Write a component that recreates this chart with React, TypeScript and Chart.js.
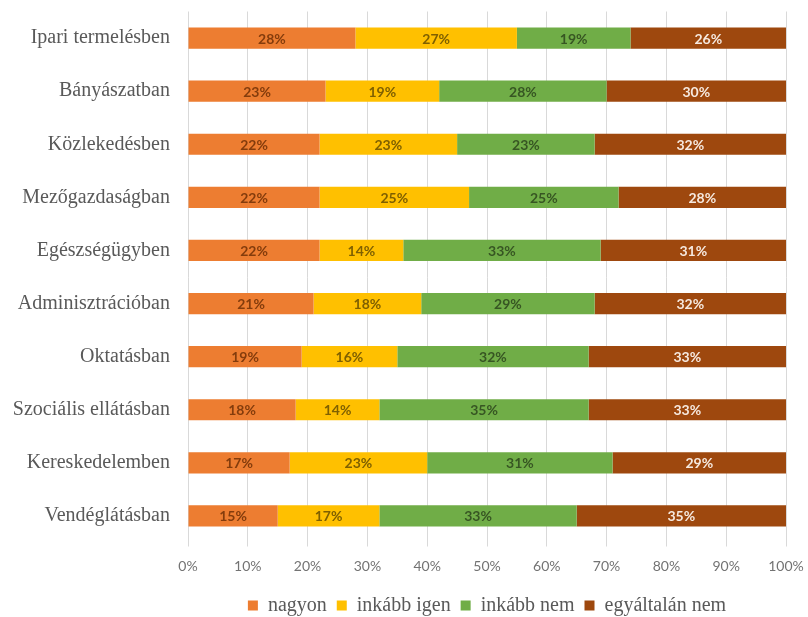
import React, { useEffect, useRef } from "react";
import { Chart, registerables } from "chart.js";

Chart.register(...registerables);

const categories = [
  "Ipari termelésben",
  "Bányászatban",
  "Közlekedésben",
  "Mezőgazdaságban",
  "Egészségügyben",
  "Adminisztrációban",
  "Oktatásban",
  "Szociális ellátásban",
  "Kereskedelemben",
  "Vendéglátásban",
];

const nagyon = [28, 23, 22, 22, 22, 21, 19, 18, 17, 15];
const inkabbIgen = [27, 19, 23, 25, 14, 18, 16, 14, 23, 17];
const inkabbNem = [19, 28, 23, 25, 33, 29, 32, 35, 31, 33];
const egyaltalanNem = [26, 30, 32, 28, 31, 32, 33, 33, 29, 35];

const seriesNames = ["nagyon", "inkább igen", "inkább nem", "egyáltalán nem"];
const seriesColors = ["#ED7D31", "#FFC000", "#70AD47", "#9E480E"];
const labelColors = ["#843C0C", "#7F6000", "#375623", "#F6E9DF"];

const serif = "'Liberation Serif', 'Times New Roman', serif";
const sans = "Lato, 'Open Sans', sans-serif";

// Percentage labels centred inside each stacked segment
const valueLabels = {
  id: "valueLabels",
  afterDatasetsDraw(chart: any) {
    const ctx = chart.ctx;
    ctx.save();
    ctx.font = `bold 14px ${sans}`;
    ctx.textAlign = "center";
    ctx.textBaseline = "middle";
    chart.data.datasets.forEach((ds: any, di: number) => {
      const meta = chart.getDatasetMeta(di);
      meta.data.forEach((bar: any, i: number) => {
        const cx = (bar.x + bar.base) / 2;
        ctx.fillStyle = labelColors[di];
        ctx.fillText(ds.data[i] + "%", cx, bar.y + 1);
      });
    });
    ctx.restore();
  },
};

export default function App() {
  const ref = useRef<HTMLCanvasElement>(null);

  useEffect(() => {
    document.body.style.margin = "0";
    const data = [nagyon, inkabbIgen, inkabbNem, egyaltalanNem];
    const chart = new Chart(ref.current!, {
      type: "bar",
      data: {
        labels: categories,
        datasets: data.map((d, i) => ({
          label: seriesNames[i],
          data: d,
          backgroundColor: seriesColors[i],
          borderWidth: 0,
          barPercentage: 0.8,
          categoryPercentage: 0.5,
        })),
      },
      options: {
        indexAxis: "y",
        animation: false,
        responsive: false,
        maintainAspectRatio: false,
        layout: { padding: { top: 11.5, right: 22, bottom: -8.5, left: 0 } },
        scales: {
          x: {
            stacked: true,
            min: 0,
            max: 100,
            ticks: {
              stepSize: 10,
              callback: (v: any) => v + "%",
              color: "#737373",
              font: { family: sans, size: 14 },
              padding: 12,
            },
            grid: { color: "#D9D9D9", drawTicks: true, tickLength: 4 },
            border: { display: false },
            afterFit: (s: any) => {
              s.height = 43;
              s.paddingLeft = 0;
              s.paddingRight = 0;
            },
          },
          y: {
            stacked: true,
            ticks: {
              color: "#595959",
              font: { family: serif, size: 20 },
              padding: 10,
            },
            grid: { display: false },
            border: { display: false },
            afterFit: (s: any) => {
              s.width = 188;
              s.paddingTop = 0;
              s.paddingBottom = 0;
            },
          },
        },
        plugins: {
          legend: {
            position: "bottom",
            fullSize: false,
            labels: {
              boxWidth: 10,
              boxHeight: 10,
              padding: 10,
              color: "#595959",
              font: { family: serif, size: 20 },
            },
          },
          tooltip: { enabled: false },
        },
      },
      plugins: [valueLabels],
    });
    return () => chart.destroy();
  }, []);

  return <canvas ref={ref} width={808} height={617} style={{ display: "block" }} />;
}
